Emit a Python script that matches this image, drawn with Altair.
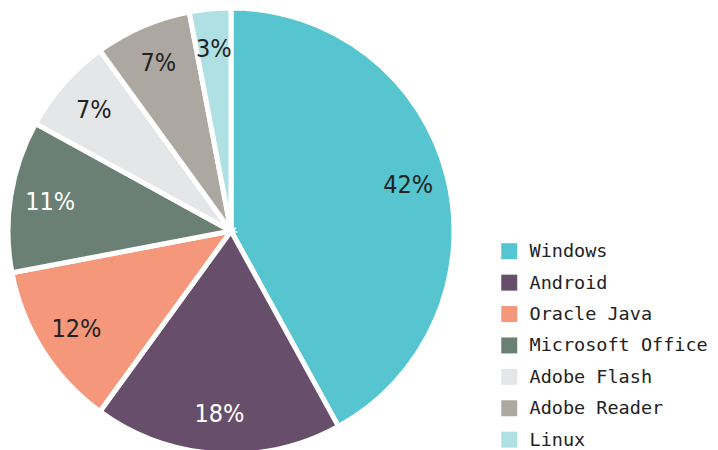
import altair as alt
import pandas as pd

names = ["Windows", "Android", "Oracle Java", "Microsoft Office", "Adobe Flash", "Adobe Reader", "Linux"]
values = [42, 18, 12, 11, 7, 7, 3]
colors = ["#56c5d0", "#674f6b", "#f5977a", "#6b8075", "#e5e6e8", "#aca8a1", "#aee0e4"]

df = pd.DataFrame({"name": names, "value": values, "order": list(range(len(names)))})
df["label"] = [f"{v}%" for v in values]

base = alt.Chart(df).encode(
    theta=alt.Theta("value:Q", stack=True),
    order=alt.Order("order:Q"),
    x=alt.value(223),
    y=alt.value(223),
)

arcs = base.mark_arc(outerRadius=223, stroke="white", strokeWidth=5).encode(
    color=alt.Color(
        "name:N",
        sort=names,
        scale=alt.Scale(domain=names, range=colors),
        legend=alt.Legend(
            title=None,
            orient="none",
            legendX=492,
            legendY=234,
            symbolType="square",
            symbolSize=256,
            symbolStrokeWidth=0,
            labelFont="DejaVu Sans Mono",
            labelFontSize=18.5,
            labelColor="#222222",
            labelOffset=11,
            labelLimit=400,
            rowPadding=12.4,
            padding=0,
        ),
    )
)

labels = base.mark_text(
    radius=183,
    font="Liberation Sans Narrow, DejaVu Sans Condensed, Roboto Condensed, sans-serif",
    fontSize=25,
).encode(
    text="label:N",
    color=alt.condition(
        "datum.name === 'Android' || datum.name === 'Microsoft Office'",
        alt.value("white"),
        alt.value("#222222"),
    ),
)

chart = (arcs + labels).properties(
    width=702, height=442, padding=0, autosize=alt.AutoSizeParams(type="none")
).configure_view(stroke=None)

chart.save("out.html", embed_options={"renderer": "svg", "actions": False})
